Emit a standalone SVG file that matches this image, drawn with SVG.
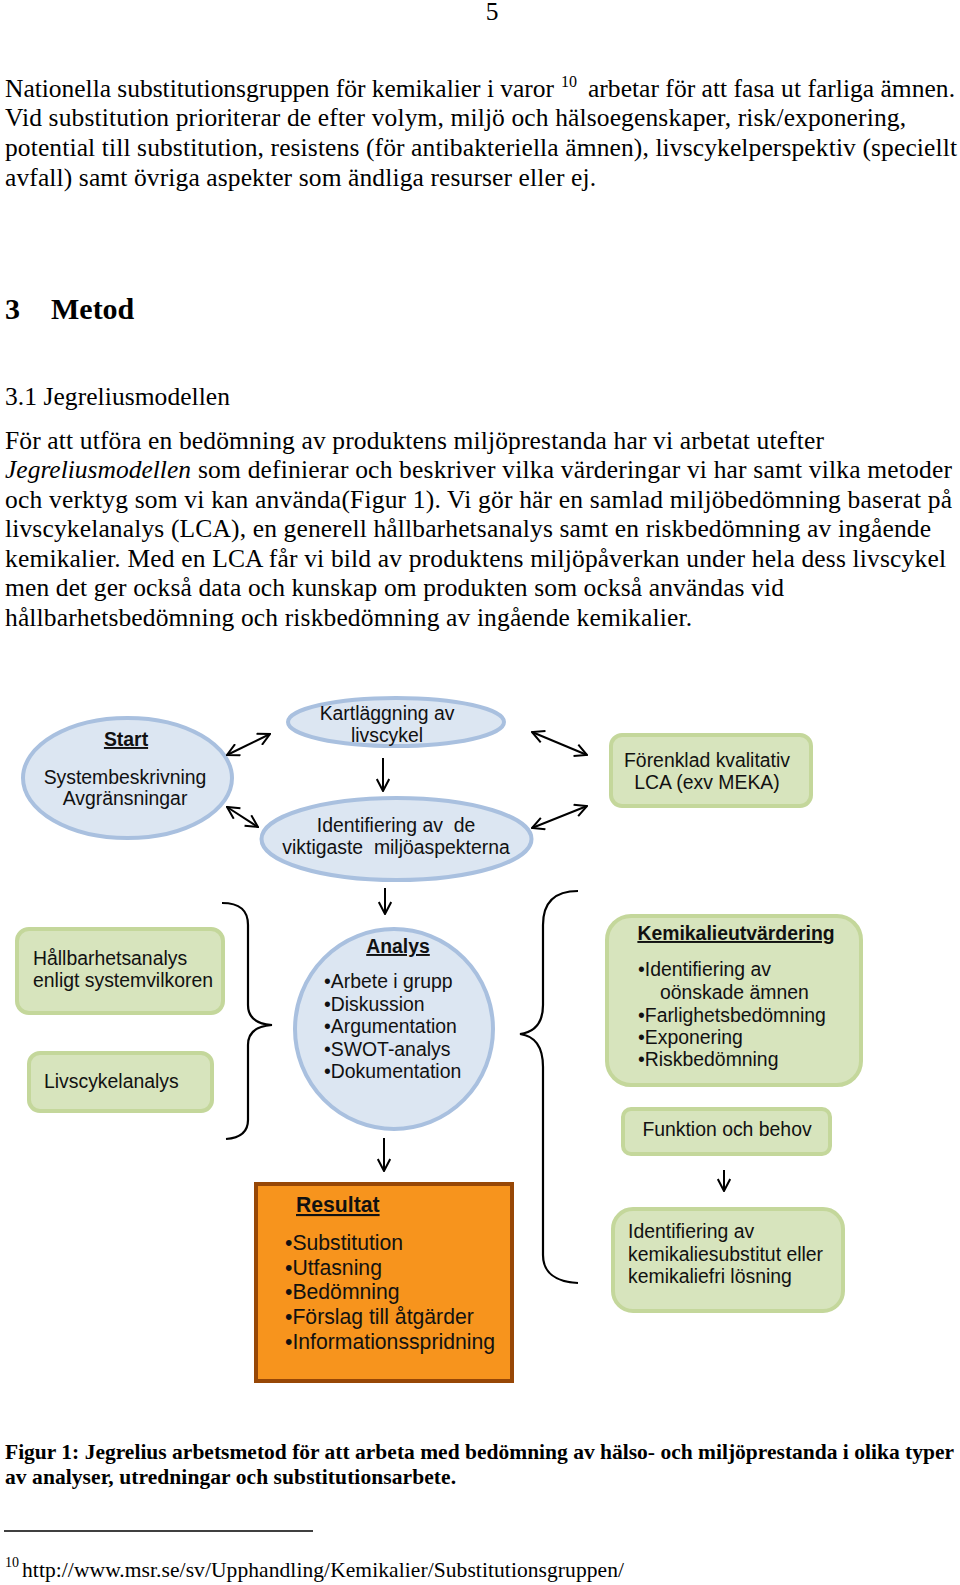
<svg xmlns="http://www.w3.org/2000/svg" width="960" height="1585" viewBox="0 0 960 1585">
<defs>
<style>
.bt{font-family:"Liberation Serif","Times New Roman",serif;font-size:25.5px;fill:#000}
.cap{font-family:"Liberation Serif","Times New Roman",serif;font-size:21.5px;font-weight:bold;fill:#000}
.fn{font-family:"Liberation Serif","Times New Roman",serif;font-size:21.5px;fill:#000}
.d{font-family:"Liberation Sans",Arial,sans-serif;font-size:19.4px;fill:#111}
.r{font-family:"Liberation Sans",Arial,sans-serif;font-size:21.2px;fill:#111}
.b{font-weight:bold;text-decoration:underline}
.mid{text-anchor:middle}
.blue{fill:#dce6f2;stroke:#a9c0df;stroke-width:4}
.green{fill:#d7e4bd;stroke:#c4d79b;stroke-width:4}
.conn{stroke:#000;stroke-width:2;fill:none}
.brace{stroke:#000;stroke-width:2.2;fill:none}
</style>
<marker id="ah" viewBox="0 0 14 14" refX="13" refY="7" markerWidth="14" markerHeight="14" markerUnits="userSpaceOnUse" orient="auto-start-reverse">
<path d="M1,0.8 L13,7 L1,13.2" fill="none" stroke="#000" stroke-width="2"/>
</marker>
</defs>
<rect width="960" height="1585" fill="#fff"/>

<g id="page-text">
<text class="bt mid" x="492" y="20">5</text>
<text class="bt" x="5" y="97" textLength="549">Nationella substitutionsgruppen för kemikalier i varor</text>
<text class="bt" x="561" y="87" style="font-size:16px">10</text>
<text class="bt" x="588" y="97" textLength="367">arbetar för att fasa ut farliga ämnen.</text>
<text class="bt" x="5" y="126" textLength="901">Vid substitution prioriterar de efter volym, miljö och hälsoegenskaper, risk/exponering,</text>
<text class="bt" x="5" y="156" textLength="952">potential till substitution, resistens (för antibakteriella ämnen), livscykelperspektiv (speciellt</text>
<text class="bt" x="5" y="186" textLength="591">avfall) samt övriga aspekter som ändliga resurser eller ej.</text>

<text class="bt" x="5" y="319" style="font-size:30px;font-weight:bold">3</text>
<text class="bt" x="51" y="319" style="font-size:30px;font-weight:bold">Metod</text>
<text class="bt" x="5" y="405" textLength="225">3.1 Jegreliusmodellen</text>

<text class="bt" x="5" y="448.5" textLength="819">För att utföra en bedömning av produktens miljöprestanda har vi arbetat utefter</text>
<text class="bt" x="5" y="478" textLength="186" style="font-style:italic">Jegreliusmodellen</text>
<text class="bt" x="198" y="478" textLength="754">som definierar och beskriver vilka värderingar vi har samt vilka metoder</text>
<text class="bt" x="5" y="507.5" textLength="947">och verktyg som vi kan använda(Figur 1). Vi gör här en samlad miljöbedömning baserat på</text>
<text class="bt" x="5" y="537" textLength="926">livscykelanalys (LCA), en generell hållbarhetsanalys samt en riskbedömning av ingående</text>
<text class="bt" x="5" y="566.5" textLength="941">kemikalier. Med en LCA får vi bild av produktens miljöpåverkan under hela dess livscykel</text>
<text class="bt" x="5" y="596" textLength="779">men det ger också data och kunskap om produkten som också användas vid</text>
<text class="bt" x="5" y="626" textLength="687">hållbarhetsbedömning och riskbedömning av ingående kemikalier.</text>

<text class="cap" x="5" y="1459" textLength="949">Figur 1: Jegrelius arbetsmetod för att arbeta med bedömning av hälso- och miljöprestanda i olika typer</text>
<text class="cap" x="5" y="1484" textLength="451">av analyser, utredningar och substitutionsarbete.</text>
<line x1="4" y1="1531" x2="313" y2="1531" stroke="#000" stroke-width="1.3"/>
<text class="fn" x="5" y="1567" style="font-size:14px">10</text>
<text class="fn" x="22" y="1577" textLength="602">http://www.msr.se/sv/Upphandling/Kemikalier/Substitutionsgruppen/</text>
</g>

<g id="node-start">
<ellipse class="blue" cx="127.5" cy="778" rx="104.5" ry="60"/>
<text class="d b mid" x="126" y="746">Start</text>
<text class="d mid" x="125" y="784">Systembeskrivning</text>
<text class="d mid" x="125" y="805">Avgränsningar</text>
</g>

<g id="node-kartlaggning">
<ellipse class="blue" cx="396" cy="722" rx="108" ry="24"/>
<text class="d mid" x="387" y="720">Kartläggning av</text>
<text class="d mid" x="387" y="742">livscykel</text>
</g>

<g id="node-identifiering">
<ellipse class="blue" cx="396.5" cy="839" rx="135" ry="41"/>
<text class="d mid" x="396" y="832" xml:space="preserve">Identifiering av  de</text>
<text class="d mid" x="396" y="854" xml:space="preserve">viktigaste  miljöaspekterna</text>
</g>

<g id="node-forenklad">
<rect class="green" x="611" y="735" width="200" height="71" rx="11"/>
<text class="d mid" x="707" y="767">Förenklad kvalitativ</text>
<text class="d mid" x="707" y="789">LCA (exv MEKA)</text>
</g>

<g id="node-hallbarhet">
<rect class="green" x="17" y="929" width="206" height="84" rx="12"/>
<text class="d" x="33" y="965">Hållbarhetsanalys</text>
<text class="d" x="33" y="987">enligt systemvilkoren</text>
</g>

<g id="node-livscykelanalys">
<rect class="green" x="29" y="1053" width="183" height="58" rx="11"/>
<text class="d" x="44" y="1088">Livscykelanalys</text>
</g>

<g id="node-analys">
<ellipse class="blue" cx="394" cy="1029" rx="99" ry="100"/>
<text class="d b mid" x="398" y="953">Analys</text>
<text class="d" x="324" y="988">•Arbete i grupp</text>
<text class="d" x="324" y="1010.5">•Diskussion</text>
<text class="d" x="324" y="1033">•Argumentation</text>
<text class="d" x="324" y="1055.5">•SWOT-analys</text>
<text class="d" x="324" y="1078">•Dokumentation</text>
</g>

<g id="node-kemikalie">
<rect class="green" x="607" y="916" width="254" height="169" rx="24"/>
<text class="d b mid" x="736" y="940">Kemikalieutvärdering</text>
<text class="d" x="638" y="976">•Identifiering av</text>
<text class="d" x="660" y="999">oönskade ämnen</text>
<text class="d" x="638" y="1021.5">•Farlighetsbedömning</text>
<text class="d" x="638" y="1044">•Exponering</text>
<text class="d" x="638" y="1066">•Riskbedömning</text>
</g>

<g id="node-funktion">
<rect class="green" x="623" y="1109" width="207" height="45" rx="8"/>
<text class="d mid" x="727" y="1136">Funktion och behov</text>
</g>

<g id="node-substitut">
<rect class="green" x="613" y="1209" width="230" height="102" rx="20"/>
<text class="d" x="628" y="1238">Identifiering av</text>
<text class="d" x="628" y="1261">kemikaliesubstitut eller</text>
<text class="d" x="628" y="1283">kemikaliefri lösning</text>
</g>

<g id="node-resultat">
<rect x="256" y="1184" width="256" height="197" fill="#f7941d" stroke="#974706" stroke-width="4"/>
<text class="r b" x="296" y="1212">Resultat</text>
<text class="r" x="285" y="1250">•Substitution</text>
<text class="r" x="285" y="1274.5">•Utfasning</text>
<text class="r" x="285" y="1299">•Bedömning</text>
<text class="r" x="285" y="1324">•Förslag till åtgärder</text>
<text class="r" x="285" y="1349">•Informationsspridning</text>
</g>

<g id="connectors">
<line class="conn" x1="227" y1="755" x2="270" y2="734" marker-start="url(#ah)" marker-end="url(#ah)"/>
<line class="conn" x1="227" y1="807" x2="258" y2="827" marker-start="url(#ah)" marker-end="url(#ah)"/>
<line class="conn" x1="532" y1="732" x2="587" y2="755" marker-start="url(#ah)" marker-end="url(#ah)"/>
<line class="conn" x1="532" y1="828" x2="587" y2="806" marker-start="url(#ah)" marker-end="url(#ah)"/>
<line class="conn" x1="383" y1="758" x2="383" y2="791" marker-end="url(#ah)"/>
<line class="conn" x1="385" y1="888" x2="385" y2="914" marker-end="url(#ah)"/>
<line class="conn" x1="384" y1="1138" x2="384" y2="1171" marker-end="url(#ah)"/>
<line class="conn" x1="724" y1="1170" x2="724" y2="1191" marker-end="url(#ah)"/>
<path class="brace" d="M222,903 C240,903 248,910 248,925 L248,1005 C248,1018 256,1024 272,1025 C256,1026 248,1033 248,1045 L248,1120 C248,1132 240,1138 226,1139"/>
<path class="brace" d="M578,891 C555,891 543,902 543,925 L543,1005 C543,1022 535,1032 520,1034 C535,1036 543,1046 543,1067 L543,1255 C543,1272 555,1282 578,1283"/>
</g>
</svg>
